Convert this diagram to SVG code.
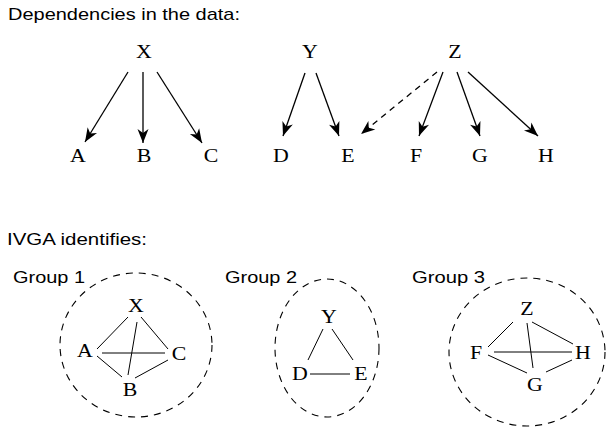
<svg xmlns="http://www.w3.org/2000/svg" width="608" height="435" viewBox="0 0 608 435">
<defs>
<style>
.s{font-family:"Liberation Sans",Arial,sans-serif;font-size:17px;fill:#000}
.n{font-family:"Liberation Serif","Times New Roman",serif;font-size:19px;fill:#000;text-anchor:middle}
.a{stroke:#000;stroke-width:1.3;fill:none}
.d{stroke-dasharray:6,5}
.e{stroke:#000;stroke-width:1;fill:none}
.c{stroke:#000;stroke-width:1.1;fill:none;stroke-dasharray:7,6}
</style>
<marker id="ah" markerUnits="userSpaceOnUse" markerWidth="18" markerHeight="14" viewBox="-15 -7 16 14" refX="0" refY="0" orient="auto">
<path d="M0,0 L-14,-5.5 L-10,0 L-14,5.5 Z" fill="#000"/>
</marker>
</defs>
<rect width="608" height="435" fill="#fff"/>
<text class="s" x="8" y="20" textLength="232" lengthAdjust="spacingAndGlyphs">Dependencies in the data:</text>
<text class="s" x="7" y="245" textLength="140" lengthAdjust="spacingAndGlyphs">IVGA identifies:</text>

<g id="top-nodes">
<g id="nX"><text class="n" transform="translate(144,58) scale(1.15,1)">X</text></g>
<g id="nY"><text class="n" transform="translate(310,58) scale(1.15,1)">Y</text></g>
<g id="nZ"><text class="n" transform="translate(455,58) scale(1.15,1)">Z</text></g>
<g id="nA"><text class="n" transform="translate(78,162) scale(1.15,1)">A</text></g>
<g id="nB"><text class="n" transform="translate(144,162) scale(1.15,1)">B</text></g>
<g id="nC"><text class="n" transform="translate(211,162) scale(1.15,1)">C</text></g>
<g id="nD"><text class="n" transform="translate(281,162) scale(1.15,1)">D</text></g>
<g id="nE"><text class="n" transform="translate(348,162) scale(1.15,1)">E</text></g>
<g id="nF"><text class="n" transform="translate(416,162) scale(1.15,1)">F</text></g>
<g id="nG"><text class="n" transform="translate(480,162) scale(1.15,1)">G</text></g>
<g id="nH"><text class="n" transform="translate(546,162) scale(1.15,1)">H</text></g>
</g>

<g id="top-connectors">
<line class="a" x1="128" y1="72" x2="85" y2="142" marker-end="url(#ah)"/>
<line class="a" x1="143" y1="72" x2="143" y2="143" marker-end="url(#ah)"/>
<line class="a" x1="157" y1="72" x2="202" y2="143" marker-end="url(#ah)"/>
<line class="a" x1="305" y1="73" x2="283" y2="136" marker-end="url(#ah)"/>
<line class="a" x1="316" y1="73" x2="339" y2="136" marker-end="url(#ah)"/>
<line class="a d" x1="437" y1="72" x2="361" y2="134" marker-end="url(#ah)"/>
<line class="a" x1="443" y1="72" x2="419" y2="136" marker-end="url(#ah)"/>
<line class="a" x1="457" y1="72" x2="480" y2="136" marker-end="url(#ah)"/>
<line class="a" x1="468" y1="72" x2="538" y2="136" marker-end="url(#ah)"/>
</g>

<g id="group1">
<ellipse class="c" cx="136" cy="345" rx="76" ry="72"/>
<text class="s" x="13" y="283" textLength="72" lengthAdjust="spacingAndGlyphs">Group 1</text>
<g id="g1X"><text class="n" transform="translate(136,312) scale(1.15,1)">X</text></g>
<g id="g1A"><text class="n" transform="translate(85,357) scale(1.15,1)">A</text></g>
<g id="g1C"><text class="n" transform="translate(179,360) scale(1.15,1)">C</text></g>
<g id="g1B"><text class="n" transform="translate(130,396) scale(1.15,1)">B</text></g>
</g>

<g id="group2">
<ellipse class="c" cx="327" cy="348" rx="52" ry="69"/>
<text class="s" x="225" y="283" textLength="72" lengthAdjust="spacingAndGlyphs">Group 2</text>
<g id="g2Y"><text class="n" transform="translate(329,323) scale(1.15,1)">Y</text></g>
<g id="g2D"><text class="n" transform="translate(300,380) scale(1.15,1)">D</text></g>
<g id="g2E"><text class="n" transform="translate(361,380) scale(1.15,1)">E</text></g>
</g>

<g id="group3">
<ellipse class="c" cx="527" cy="352" rx="78" ry="74"/>
<text class="s" x="412" y="283" textLength="73" lengthAdjust="spacingAndGlyphs">Group 3</text>
<g id="g3Z"><text class="n" transform="translate(527,315) scale(1.15,1)">Z</text></g>
<g id="g3F"><text class="n" transform="translate(476,359) scale(1.15,1)">F</text></g>
<g id="g3H"><text class="n" transform="translate(583,359) scale(1.15,1)">H</text></g>
<g id="g3G"><text class="n" transform="translate(535,391) scale(1.15,1)">G</text></g>
</g>

<g id="group-connectors">
<line class="e" x1="128" y1="317" x2="97" y2="349"/>
<line class="e" x1="141" y1="317" x2="168" y2="349"/>
<line class="e" x1="137" y1="322" x2="128" y2="375"/>
<line class="e" x1="102" y1="353" x2="165" y2="353"/>
<line class="e" x1="97" y1="356" x2="122" y2="377"/>
<line class="e" x1="135" y1="378" x2="168" y2="360"/>
<line class="e" x1="323" y1="329" x2="308" y2="360"/>
<line class="e" x1="332" y1="329" x2="353" y2="360"/>
<line class="e" x1="310" y1="374" x2="350" y2="374"/>
<line class="e" x1="513" y1="322" x2="488" y2="347"/>
<line class="e" x1="532" y1="322" x2="573" y2="344"/>
<line class="e" x1="527" y1="323" x2="533" y2="368"/>
<line class="e" x1="494" y1="352" x2="572" y2="352"/>
<line class="e" x1="488" y1="355" x2="527" y2="373"/>
<line class="e" x1="546" y1="372" x2="572" y2="360"/>
</g>
</svg>
